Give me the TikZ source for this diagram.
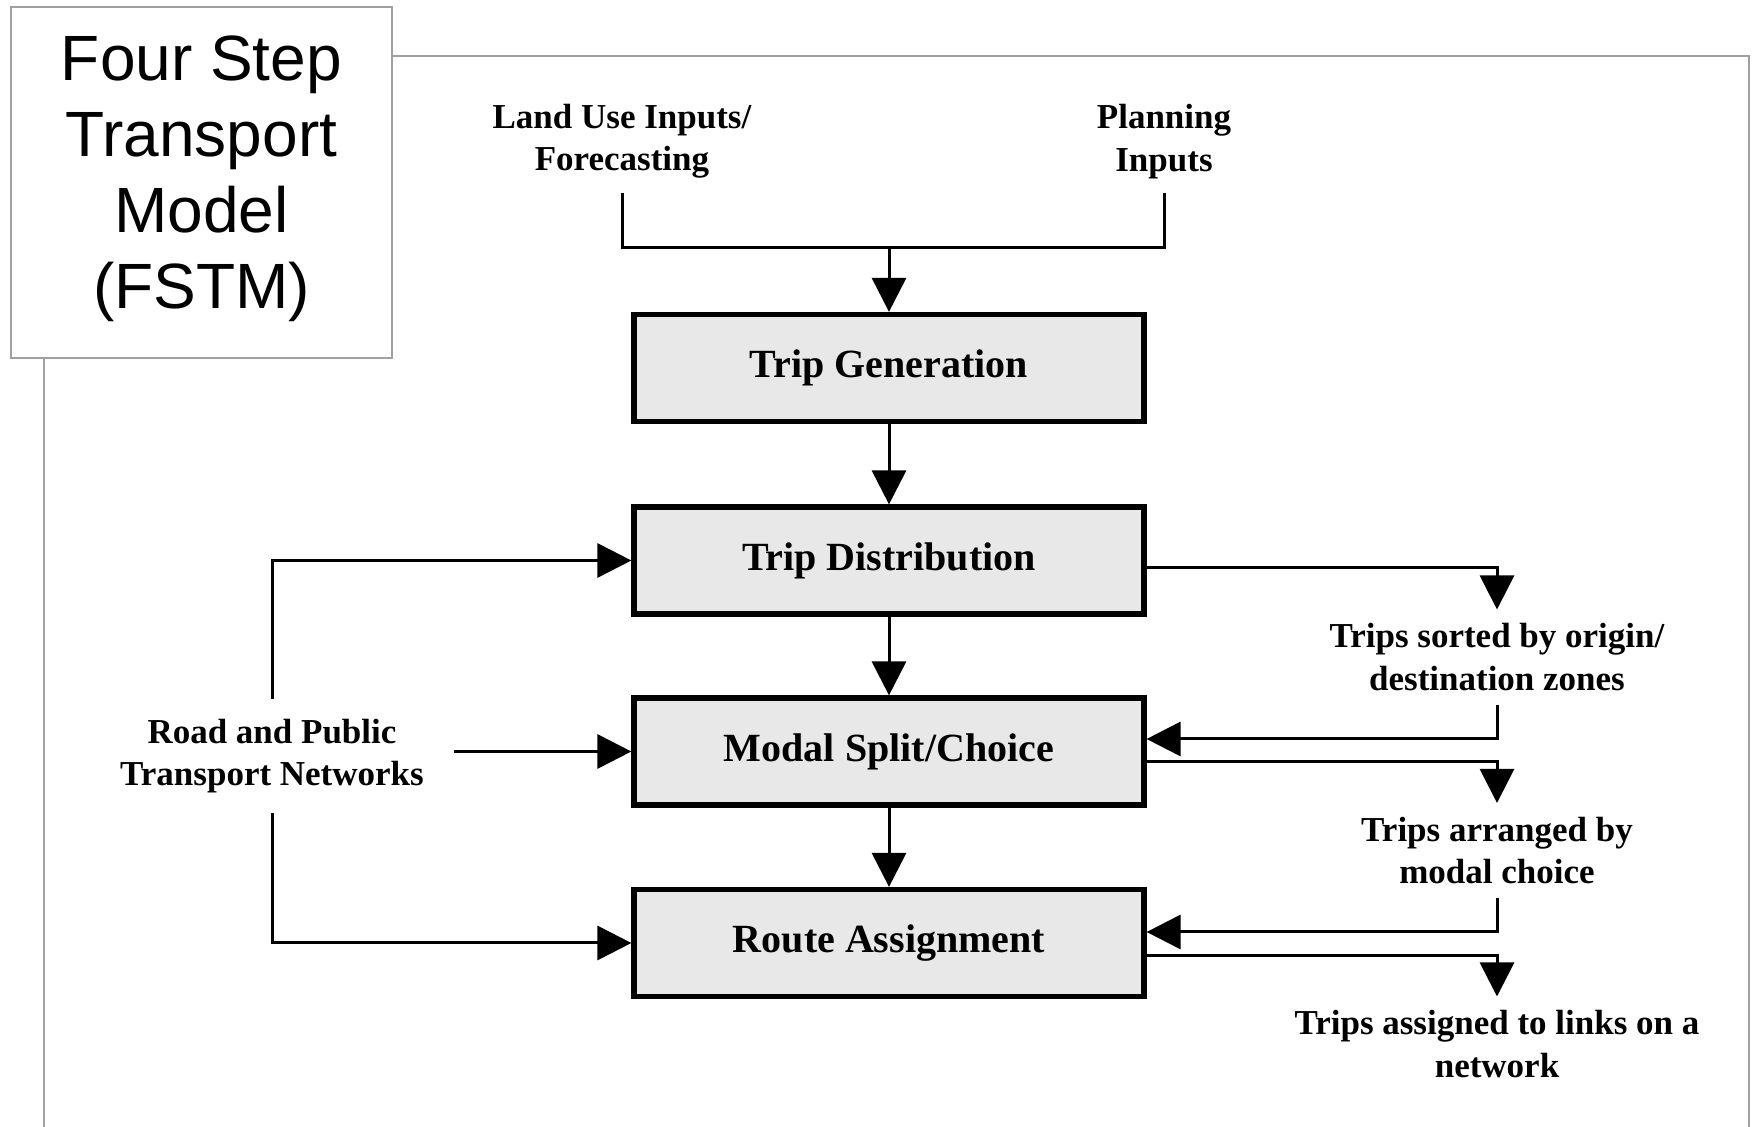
\documentclass[tikz,border=0pt]{standalone}
\usepackage{fontspec}
\setmainfont{Liberation Serif}
\newfontfamily\titlefont{Liberation Sans}
\usetikzlibrary{arrows.meta}
\definecolor{framegray}{HTML}{A0A0A0}
\definecolor{boxfill}{HTML}{E8E8E8}
\begin{document}
\begin{tikzpicture}[x=0.5pt,y=-0.5pt,
  stepbox/.style={draw=black, line width=2.6pt, fill=boxfill, minimum width=255pt, minimum height=53.5pt, inner sep=0pt, font=\fontsize{20}{24}\selectfont\bfseries},
  lbl/.style={align=center, inner sep=0pt, outer ysep=7pt, font=\fontsize{17.5}{21.2}\selectfont\bfseries},
  conn/.style={draw=black, line width=1.5pt},
  arr/.style={conn, -{Triangle[length=17pt,width=17pt]}},
  frameline/.style={draw=framegray, line width=1.3pt},
  titlebox/.style={draw=framegray, line width=1pt, fill=white, minimum width=190.5pt, minimum height=175.5pt, inner sep=0pt},
  titletext/.style={align=center, inner sep=0pt, font=\titlefont\fontsize{32}{38}\selectfont}
  ]
\useasboundingbox (0,0) rectangle (1752,1127);

% frame
\coordinate (ftop) at (1749,56);
\coordinate (fbr) at (1749,1127);
\coordinate (fbl) at (44,1127);

\node[titlebox] (title) at (201.5,182.5) {};
\node[titletext] (titletxt) at (201.5,178.5) {Four Step\\Transport\\Model\\(FSTM)};
\draw[frameline] (title.east |- ftop) -- (ftop) -- (fbr);
\draw[frameline] (title.south -| fbl) -- (fbl);

% step boxes
\node[stepbox] (tg) at (889,368) {Trip Generation};
\node[stepbox] (td) at (889,560.5) {Trip Distribution};
\node[stepbox] (ms) at (889,751.5) {Modal Split/Choice};
\node[stepbox] (ra) at (889,943) {Route Assignment};

% top inputs
\node[lbl] (lu) at (622,141.5) {Land Use Inputs/\\Forecasting};
\node[lbl] (pl) at (1164,141.5) {Planning\\Inputs};
\coordinate (j) at (889,248);
\draw[conn] (lu.south) -- (lu.south |- j) -- (pl.south |- j) -- (pl.south);
\draw[arr] (j) -- (tg.north);

% vertical chain
\draw[arr] (tg.south) -- (td.north);
\draw[arr] (td.south) -- (ms.north);
\draw[arr] (ms.south) -- (ra.north);

% left networks
\node[lbl, outer ysep=10pt, outer xsep=15pt] (rd) at (272,756) {Road and Public\\Transport Networks};
\draw[arr] (rd.north) |- (td.west);
\draw[arr] (rd.east |- ms.west) -- (ms.west);
\draw[arr] (rd.south) |- (ra.west);

% right outputs
\node[lbl] (l1) at (1497,657) {Trips sorted by origin/\\destination zones};
\node[lbl] (l2) at (1497,850.5) {Trips arranged by\\modal choice};
\node[lbl] (l3) at (1497,1044) {Trips assigned to links on a\\network};

\draw[arr] ([yshift=-3.75pt]td.east) -| (l1.north);
\draw[arr] (l1.south) |- ([yshift=6.25pt]ms.east);
\draw[arr] ([yshift=-5.25pt]ms.east) -| (l2.north);
\draw[arr] (l2.south) |- ([yshift=5.5pt]ra.east);
\draw[arr] ([yshift=-6.5pt]ra.east) -| (l3.north);
\end{tikzpicture}
\end{document}
